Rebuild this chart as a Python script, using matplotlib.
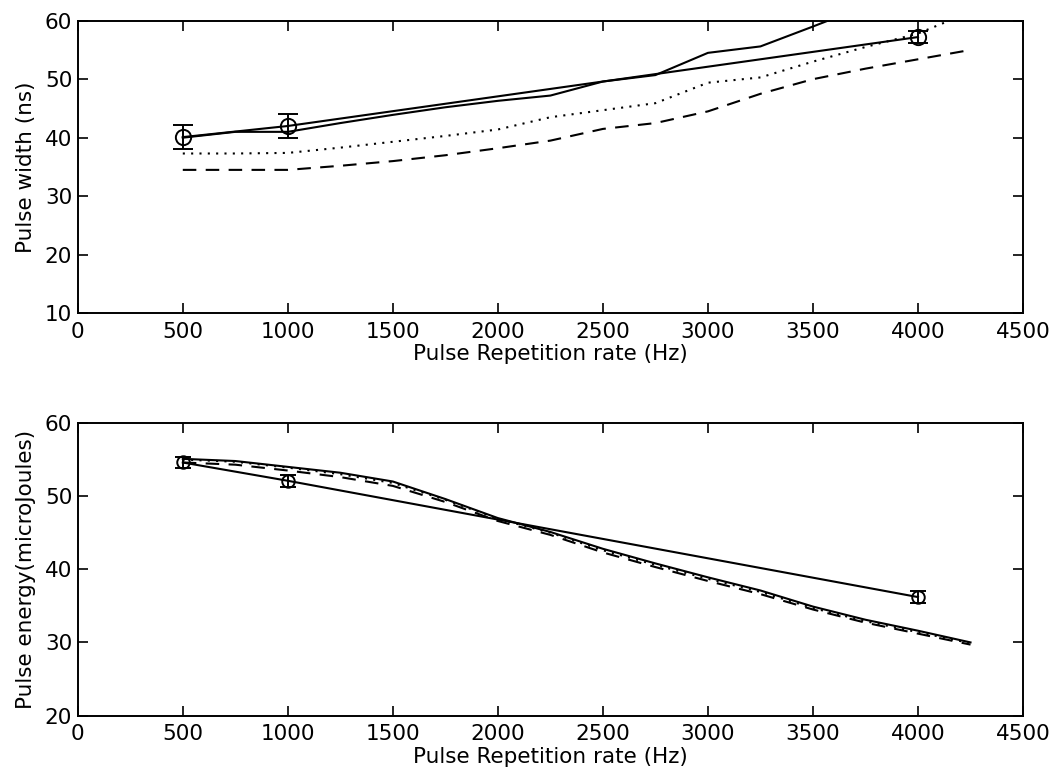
import matplotlib.pyplot as plt
import numpy as np

plt.rcParams['font.family'] = ['DejaVu Sans']
plt.rcParams['font.size'] = 15.5

# model grid (Hz)
rate = [500, 750, 1000, 1250, 1500, 1750, 2000, 2250, 2500, 2750, 3000, 3250, 3500, 3750, 4000, 4250]

# measured points
meas_rate = [500, 1000, 4000]
width_meas = [40.1, 42.0, 57.2]
width_err = [2.0, 2.0, 1.0]
energy_meas = [54.6, 52.1, 36.2]
energy_err = [0.8, 0.8, 0.8]

# pulse width models
width_solid = [40.0, 41.0, 41.0, 42.5, 43.9, 45.2, 46.3, 47.2, 49.6, 50.7, 54.5, 55.6, 59.0, 62.5, 66.0, 69.5]
width_dotted = [37.3, 37.3, 37.4, 38.3, 39.3, 40.3, 41.4, 43.5, 44.7, 45.9, 49.4, 50.3, 53.0, 55.5, 57.8, 61.5]
width_dashed = [34.5, 34.5, 34.5, 35.2, 36.0, 37.0, 38.2, 39.5, 41.5, 42.5, 44.5, 47.5, 50.0, 51.8, 53.4, 55.0]

# pulse energy models
energy_solid = [55.1, 54.8, 54.0, 53.2, 52.0, 49.6, 47.0, 45.1, 42.8, 40.8, 38.9, 37.1, 34.9, 33.1, 31.6, 30.0]
energy_dotted = [55.0, 54.7, 53.9, 53.0, 51.8, 49.5, 46.9, 45.0, 42.6, 40.6, 38.7, 36.9, 34.7, 32.9, 31.4, 29.9]
energy_dashed = [54.6, 54.3, 53.5, 52.6, 51.4, 49.2, 46.6, 44.7, 42.3, 40.3, 38.4, 36.6, 34.5, 32.7, 31.2, 29.7]

fig = plt.figure(figsize=(10.55, 7.74), dpi=100)
ax1 = fig.add_axes([0.0737, 0.5953, 0.8960, 0.3780])
ax2 = fig.add_axes([0.0737, 0.0755, 0.8960, 0.3780])

lw = 1.5
dash = (0, (6.5, 4.5))
dot = (0, (1, 3))

def style(ax, ylo, yhi, yt, ylabel):
    ax.set_xlim(0, 4500)
    ax.set_ylim(ylo, yhi)
    ax.set_xticks(np.arange(0, 4501, 500))
    ax.set_yticks(yt)
    ax.tick_params(direction='in', top=True, right=True, length=7, width=1.2)
    ax.tick_params(axis='x', pad=6)
    ax.tick_params(axis='y', pad=4)
    for s in ax.spines.values():
        s.set_linewidth(1.4)
    ax.set_xlabel('Pulse Repetition rate (Hz)', labelpad=2)
    ax.set_ylabel(ylabel, labelpad=6)

ax1.plot(rate, width_solid, 'k-', lw=lw)
ax1.plot(rate, width_dotted, color='k', ls=dot, lw=lw)
ax1.plot(rate, width_dashed, color='k', ls=dash, lw=lw)
ax1.errorbar(meas_rate, width_meas, yerr=width_err, fmt='-o', color='k', lw=lw,
             mfc='none', ms=11, mew=1.4, capsize=7, elinewidth=1.4, capthick=1.4)
style(ax1, 10, 60, range(10, 61, 10), 'Pulse width (ns)')

ax2.plot(rate, energy_solid, 'k-', lw=lw)
ax2.plot(rate, energy_dotted, color='k', ls=dot, lw=lw)
ax2.plot(rate, energy_dashed, color='k', ls=dash, lw=lw)
ax2.errorbar(meas_rate, energy_meas, yerr=energy_err, fmt='-o', color='k', lw=lw,
             mfc='none', ms=9, mew=1.4, capsize=6, elinewidth=1.4, capthick=1.4)
style(ax2, 20, 60, range(20, 61, 10), 'Pulse energy(microJoules)')

fig.savefig('out.png', dpi=100)
